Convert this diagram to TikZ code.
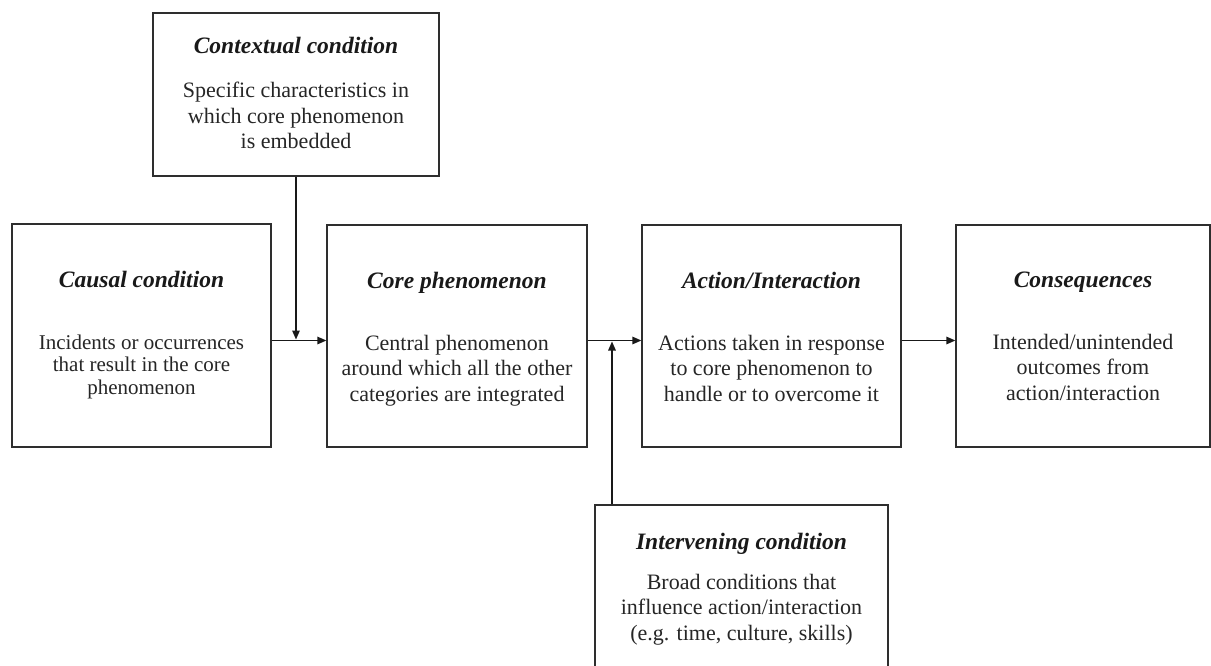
\documentclass[tikz,border=0pt]{standalone}
\usepackage{fontspec}
\setmainfont{Liberation Serif}
\usetikzlibrary{arrows.meta}
\begin{document}
\begin{tikzpicture}[x=1pt,y=-1pt,
  frame/.style={draw=black!82, line width=1.3pt, inner sep=0pt, fill=none},
  heading/.style={anchor=base, inner sep=0pt, text=black!90,
    font=\fontsize{23.5pt}{26pt}\selectfont\bfseries\itshape},
  bodytext/.style={anchor=base, inner sep=0pt, align=center, text=black!85,
    font=\fontsize{22pt}{25.5pt}\selectfont},
  smallbody/.style={bodytext, font=\fontsize{21pt}{22.5pt}\selectfont},
  flow/.style={line width=1.4pt, draw=black!90,
    -{Triangle[length=9pt,width=7.5pt]}}]
\clip (0,0) rectangle (1211,666);
\fill[white] (0,0) rectangle (1211,666);

% boxes
\node[frame, minimum width=286pt, minimum height=163pt] (ctx) at (296,94.5) {};
\node[frame, minimum width=259pt, minimum height=223pt] (causal) at (141.5,335.5) {};
\node[frame, minimum width=260pt, minimum height=222pt] (core) at (457,336) {};
\node[frame, minimum width=259pt, minimum height=222pt] (action) at (771.5,336) {};
\node[frame, minimum width=254pt, minimum height=222pt] (cons) at (1083,336) {};
\node[frame, minimum width=293pt, minimum height=195pt] (interv) at (741.5,602.5) {};

% headings (placed by baseline)
\node[heading] (ctx-h) at (296,54) {Contextual condition};
\node[heading] (causal-h) at (141.5,287) {Causal condition};
\node[heading] (core-h) at (457,288) {Core phenomenon};
\node[heading] (action-h) at (771.5,288) {Action/Interaction};
\node[heading] (cons-h) at (1083,287) {Consequences};
\node[heading] (interv-h) at (741.5,549) {Intervening condition};

% descriptions (placed by the baseline of their last line)
\node[bodytext] (ctx-b) at (296,149) {Specific characteristics in\\which core phenomenon\\is embedded};
\node[smallbody] (causal-b) at (141.5,394) {Incidents or occurrences\\that result in the core\\phenomenon};
\node[bodytext] (core-b) at (457,401) {Central phenomenon\\around which all the other\\categories are integrated};
\node[bodytext] (action-b) at (771.5,401) {Actions taken in response\\to core phenomenon to\\handle or to overcome it};
\node[bodytext] (cons-b) at (1083,400) {Intended/unintended\\outcomes from\\action/interaction};
\node[bodytext] (interv-b) at (741.5,640) {Broad conditions that\\influence action/interaction\\(e.g. time, culture, skills)};

% flow line level and junctions
\coordinate (row) at (0,340.5);
\coordinate (j1) at (296,339.5);
\coordinate (j2) at (612,341.5);

% connectors
\draw[flow] (causal.east |- row) -- (core.west |- row);
\draw[flow] (core.east |- row) -- (action.west |- row);
\draw[flow] (action.east |- row) -- (cons.west |- row);
\draw[flow] (ctx.south) -- (j1);
\draw[flow] (interv.north -| j2) -- (j2);
\end{tikzpicture}
\end{document}
